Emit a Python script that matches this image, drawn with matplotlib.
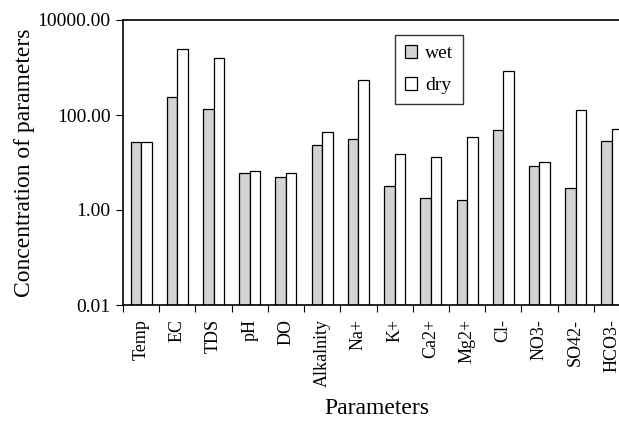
import numpy as np
import matplotlib.pyplot as plt
from matplotlib.ticker import FixedLocator, FuncFormatter

plt.rcParams['font.family'] = ['Liberation Serif', 'DejaVu Serif']

params = ['Temp', 'EC', 'TDS', 'pH', 'DO', 'Alkalnity', 'Na+', 'K+', 'Ca2+',
          'Mg2+', 'Cl-', 'NO3-', 'SO42-', 'HCO3-']
wet = [26.6, 239, 134, 6.1, 4.95, 23, 30.8, 3.15, 1.76, 1.65, 48.3, 8.3, 2.95, 28.8]
dry = [26.6, 2490, 1610, 6.6, 6.1, 44.6, 537, 14.9, 12.9, 34, 832, 10.2, 126, 51.5]

fig = plt.figure(figsize=(6.19, 4.21), dpi=100)
# axes runs a bit past the right edge, as in the cropped original
ax = fig.add_axes([123/619, 1 - 305/421, 507/619, 285/421])

x = np.arange(len(params))
w = 0.29
ax.bar(x - w/2, wet, w, bottom=0.01, color='#d3d3d3', edgecolor='black', linewidth=0.9, label='wet')
ax.bar(x + w/2, dry, w, bottom=0.01, color='white', edgecolor='black', linewidth=0.9, label='dry')

ax.set_yscale('log')
ax.set_ylim(0.01, 10000)
ax.set_xlim(-0.5, len(params) - 0.5)
ax.yaxis.set_major_locator(FixedLocator([0.01, 1, 100, 10000]))
ax.yaxis.set_minor_locator(FixedLocator([]))
ax.yaxis.set_major_formatter(FuncFormatter(lambda v, p: '%.2f' % v))

# ticks between categories, labels at centres
ax.xaxis.set_major_locator(FixedLocator(np.arange(len(params) + 1) - 0.5))
ax.xaxis.set_major_formatter(FuncFormatter(lambda v, p: ''))
ax.xaxis.set_minor_locator(FixedLocator(x))
ax.set_xticklabels(params, minor=True, rotation=90, fontsize=13)
ax.tick_params(axis='x', which='minor', length=0, pad=10)
ax.tick_params(axis='x', which='major', length=5, direction='out')
ax.tick_params(axis='y', which='major', length=5, direction='out', labelsize=14, pad=4)

ax.spines['right'].set_visible(False)
for s in ['left', 'bottom', 'top']:
    ax.spines[s].set_linewidth(1.2)

ax.set_ylabel('Concentration of parameters', fontsize=17, labelpad=2)
ax.set_xlabel('Parameters', fontsize=17, labelpad=8)

leg = ax.legend(loc='upper left', bbox_to_anchor=(272/507, 1 - 15/285), fontsize=14,
                frameon=True, fancybox=False, edgecolor='black', handlelength=0.65,
                handleheight=0.65, labelspacing=0.75, borderpad=0.5, handletextpad=0.4,
                borderaxespad=0)
leg.get_frame().set_linewidth(1.0)

fig.savefig('out.png', dpi=100)
